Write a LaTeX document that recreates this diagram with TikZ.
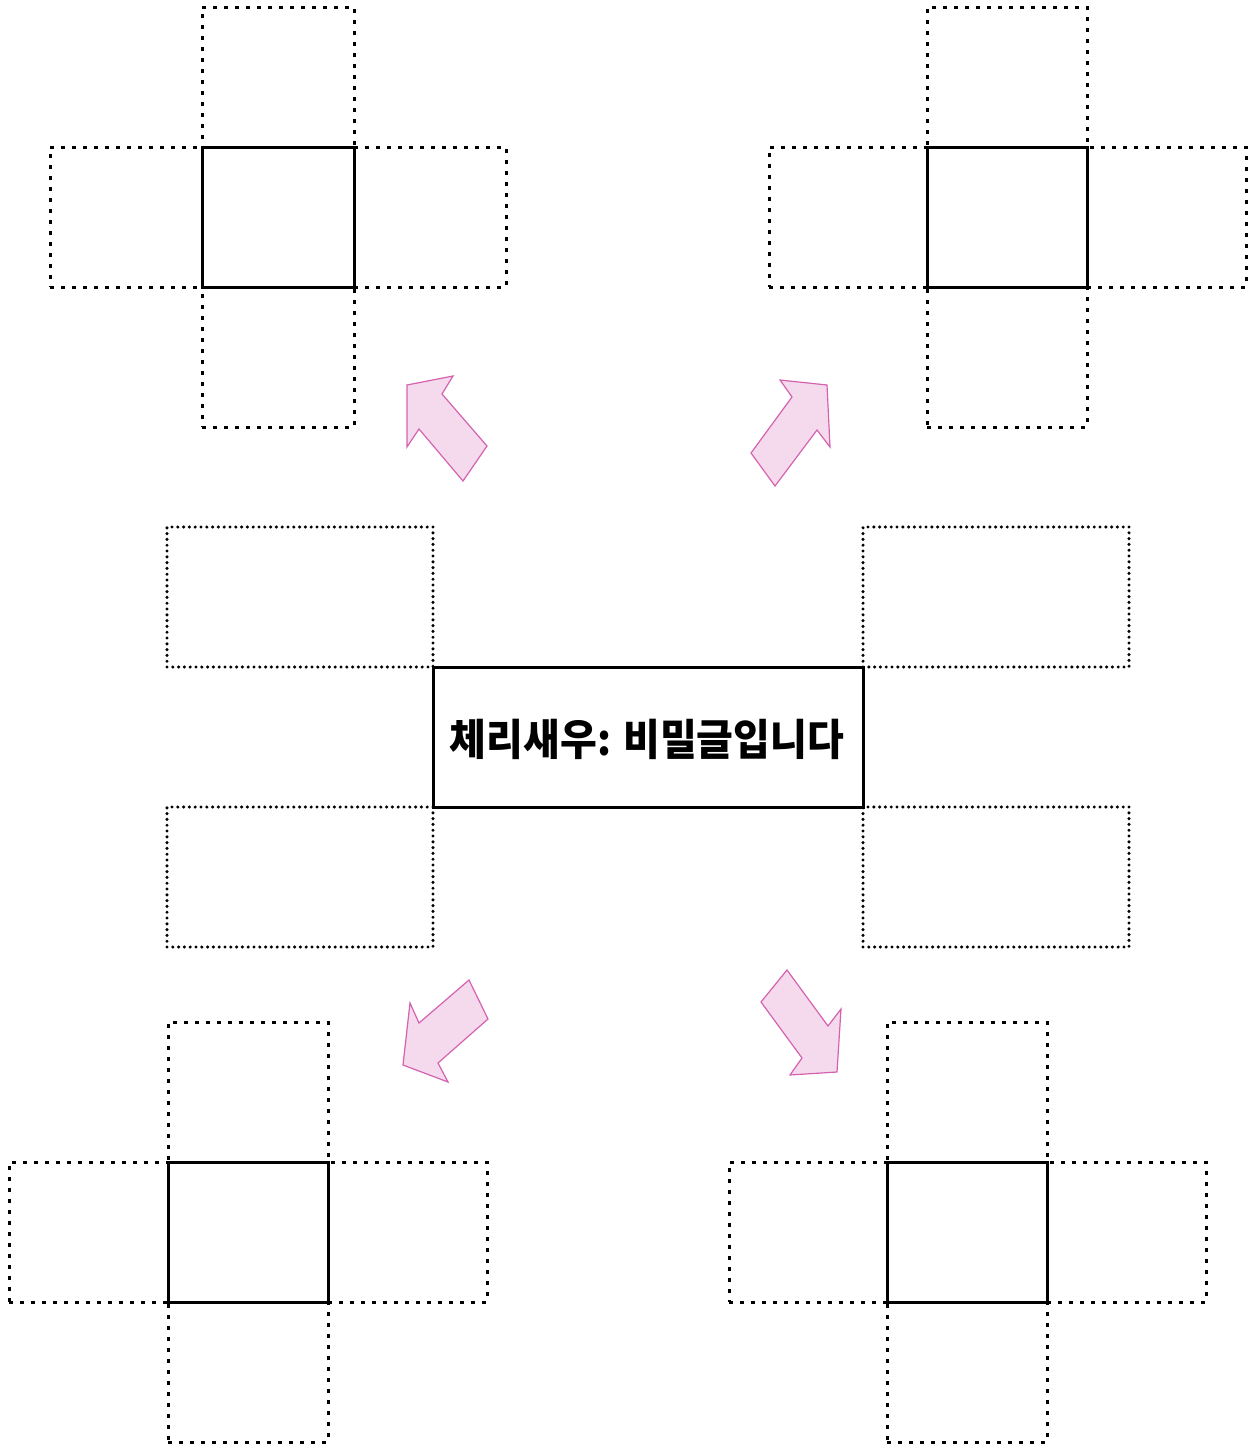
\documentclass[tikz,border=0pt]{standalone}
\usepackage{fontspec}
\newfontfamily\krfont[FakeStretch=0.93]{Noto Sans CJK KR}
\definecolor{arrowfill}{HTML}{F4DAEC}
\definecolor{arrowline}{HTML}{D462B0}
\tikzset{
  sqdot/.style={draw=black, line width=1.5pt, dash pattern=on 2pt off 3.5pt, inner sep=0pt, outer sep=0pt},
  rddot/.style={draw=black, line width=1.7pt, line cap=round, dash pattern=on 0pt off 2.9pt, inner sep=0pt, outer sep=0pt},
  solidbox/.style={draw=black, line width=1.5pt, inner sep=0pt, outer sep=0pt},
  pinkarrow/.style={fill=arrowfill, draw=arrowline, line width=0.6pt, line join=miter},
}
\begin{document}
\begin{tikzpicture}[x=0.5pt, y=-0.5pt]
\useasboundingbox (0,0) rectangle (1252,1446);
% ---- top-left cross
\node[sqdot, minimum width=76pt, minimum height=70pt] (tlT) at (278,77) {};
\node[sqdot, minimum width=76pt, minimum height=70pt] (tlL) at (126,217) {};
\node[sqdot, minimum width=76pt, minimum height=70pt] (tlR) at (430,217) {};
\node[sqdot, minimum width=76pt, minimum height=70pt] (tlB) at (278,357) {};
\node[solidbox, minimum width=76pt, minimum height=70pt] (tlC) at (278,217) {};
% ---- top-right cross
\node[sqdot, minimum width=80pt, minimum height=70pt] (trT) at (1007,77) {};
\node[sqdot, minimum width=79pt, minimum height=70pt] (trL) at (848,217) {};
\node[sqdot, minimum width=79.5pt, minimum height=70pt] (trR) at (1166.5,217) {};
\node[sqdot, minimum width=80pt, minimum height=70pt] (trB) at (1007,357) {};
\node[solidbox, minimum width=80pt, minimum height=70pt] (trC) at (1007,217) {};
% ---- bottom-left cross
\node[sqdot, minimum width=80pt, minimum height=70pt] (blT) at (248,1092) {};
\node[sqdot, minimum width=79.5pt, minimum height=70pt] (blL) at (88.5,1232) {};
\node[sqdot, minimum width=79.5pt, minimum height=70pt] (blR) at (407.5,1232) {};
\node[sqdot, minimum width=80pt, minimum height=70pt] (blB) at (248,1372) {};
\node[solidbox, minimum width=80pt, minimum height=70pt] (blC) at (248,1232) {};
% ---- bottom-right cross
\node[sqdot, minimum width=80pt, minimum height=70pt] (brT) at (967,1092) {};
\node[sqdot, minimum width=79pt, minimum height=70pt] (brL) at (808,1232) {};
\node[sqdot, minimum width=79.5pt, minimum height=70pt] (brR) at (1126.5,1232) {};
\node[sqdot, minimum width=80pt, minimum height=70pt] (brB) at (967,1372) {};
\node[solidbox, minimum width=80pt, minimum height=70pt] (brC) at (967,1232) {};
% ---- middle
\node[rddot, minimum width=133pt, minimum height=70pt] (mTL) at (300,597) {};
\node[rddot, minimum width=133pt, minimum height=70pt] (mBL) at (300,877) {};
\node[rddot, minimum width=133pt, minimum height=70pt] (mTR) at (996,597) {};
\node[rddot, minimum width=133pt, minimum height=70pt] (mBR) at (996,877) {};
\node[solidbox, minimum width=215pt, minimum height=70pt] (mC) at (648,737) {};
\node (label) at (647,739) {\krfont\bfseries\fontsize{21.5pt}{24pt}\selectfont 체리새우: 비밀글입니다};
% ---- arrows
\draw[pinkarrow] (407,385) -- (453,376) -- (442,394) -- (487,446) -- (463,481) -- (419,429) -- (407,447) -- cycle;
\draw[pinkarrow] (780,380) -- (827,385) -- (830,447) -- (817,430) -- (775,486) -- (751,453) -- (792,397) -- cycle;
\draw[pinkarrow] (469,980) -- (488,1019) -- (438,1063) -- (448,1082) -- (403,1065) -- (410,1003) -- (419,1023) -- cycle;
\draw[pinkarrow] (787,970) -- (828,1026) -- (841,1009) -- (837,1072) -- (790,1075) -- (802,1058) -- (761,1002) -- cycle;
\end{tikzpicture}
\end{document}
